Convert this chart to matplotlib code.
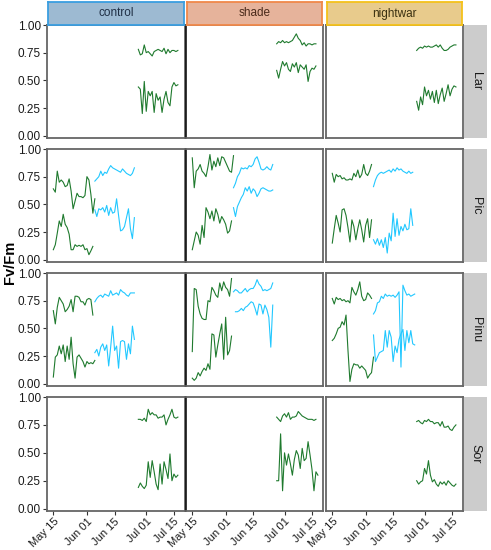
import matplotlib
matplotlib.use("Agg")
import matplotlib.pyplot as plt
import matplotlib.dates as mdates
import numpy as np
import pandas as pd

plt.rcParams['font.family'] = ['Liberation Sans', 'DejaVu Sans']

treatments = ['control', 'shade', 'nightwar']
species = ['Lar', 'Pic', 'Pinu', 'Sor']
yticks = [0.00, 0.25, 0.50, 0.75, 1.00]
xtick_dates = ['2021-05-15', '2021-06-01', '2021-06-15', '2021-07-01', '2021-07-15']

# start dates of the three measuring periods
p1_start = '2021-05-15'
p2_start = '2021-06-05'
p3_start = '2021-06-27'

# Lar (only third period)
lar_ctrl_hi = [0.78, 0.73, 0.74, 0.82, 0.75, 0.76, 0.74, 0.72, 0.76, 0.77, 0.78, 0.77, 0.76, 0.79, 0.74, 0.78, 0.75, 0.77, 0.77, 0.76, 0.77]
lar_ctrl_lo = [0.44, 0.42, 0.20, 0.49, 0.22, 0.40, 0.36, 0.40, 0.21, 0.38, 0.32, 0.35, 0.21, 0.33, 0.40, 0.30, 0.27, 0.44, 0.48, 0.45, 0.46]
lar_shade_hi = [0.83, 0.85, 0.84, 0.86, 0.84, 0.85, 0.84, 0.85, 0.86, 0.89, 0.92, 0.88, 0.86, 0.82, 0.84, 0.81, 0.83, 0.83, 0.82, 0.83, 0.83]
lar_shade_lo = [0.59, 0.52, 0.60, 0.67, 0.63, 0.66, 0.60, 0.58, 0.65, 0.62, 0.66, 0.57, 0.64, 0.62, 0.60, 0.64, 0.49, 0.58, 0.61, 0.60, 0.63]
lar_night_hi = [0.77, 0.79, 0.80, 0.79, 0.81, 0.80, 0.81, 0.80, 0.80, 0.81, 0.82, 0.80, 0.82, 0.79, 0.77, 0.77, 0.78, 0.80, 0.81, 0.82, 0.82]
lar_night_lo = [0.31, 0.23, 0.35, 0.28, 0.44, 0.36, 0.41, 0.33, 0.40, 0.30, 0.41, 0.29, 0.37, 0.43, 0.31, 0.38, 0.46, 0.36, 0.42, 0.45, 0.44]

# Pic (first + second period)
pic_ctrl_hi_p1 = [0.64, 0.61, 0.80, 0.70, 0.72, 0.70, 0.66, 0.67, 0.73, 0.62, 0.46, 0.53, 0.60, 0.57, 0.57, 0.56, 0.58, 0.75, 0.72, 0.59, 0.42, 0.55]
pic_ctrl_lo_p1 = [0.09, 0.135, 0.24, 0.35, 0.30, 0.41, 0.32, 0.29, 0.23, 0.09, 0.09, 0.135, 0.12, 0.13, 0.12, 0.135, 0.09, 0.10, 0.045, 0.08, 0.12]
pic_ctrl_hi_p2 = [0.71, 0.73, 0.75, 0.80, 0.76, 0.79, 0.78, 0.82, 0.85, 0.83, 0.82, 0.81, 0.80, 0.79, 0.82, 0.80, 0.78, 0.77, 0.76, 0.78, 0.83]
pic_ctrl_lo_p2 = [0.45, 0.39, 0.46, 0.45, 0.47, 0.43, 0.49, 0.40, 0.47, 0.42, 0.43, 0.55, 0.40, 0.26, 0.27, 0.30, 0.38, 0.46, 0.28, 0.19, 0.38]
pic_shade_hi_p1 = [0.92, 0.65, 0.80, 0.82, 0.86, 0.80, 0.78, 0.75, 0.84, 0.95, 0.81, 0.89, 0.84, 0.92, 0.85, 0.93, 0.92, 0.88, 0.84, 0.80, 0.79, 0.94]
pic_shade_lo_p1 = [0.09, 0.17, 0.25, 0.22, 0.14, 0.31, 0.20, 0.47, 0.43, 0.37, 0.44, 0.35, 0.46, 0.41, 0.33, 0.39, 0.36, 0.32, 0.24, 0.26, 0.35]
pic_shade_hi_p2 = [0.65, 0.69, 0.75, 0.78, 0.83, 0.82, 0.83, 0.82, 0.85, 0.84, 0.86, 0.91, 0.93, 0.88, 0.82, 0.81, 0.82, 0.84, 0.82, 0.81, 0.86]
pic_shade_lo_p2 = [0.47, 0.39, 0.48, 0.52, 0.56, 0.59, 0.65, 0.62, 0.66, 0.60, 0.64, 0.62, 0.57, 0.60, 0.64, 0.65, 0.64, 0.63, 0.62, 0.62, 0.63]
pic_night_hi_p1 = [0.78, 0.70, 0.77, 0.75, 0.76, 0.73, 0.74, 0.72, 0.72, 0.73, 0.72, 0.78, 0.75, 0.81, 0.74, 0.77, 0.86, 0.78, 0.76, 0.80, 0.86]
pic_night_lo_p1 = [0.15, 0.28, 0.40, 0.33, 0.25, 0.45, 0.46, 0.40, 0.29, 0.16, 0.36, 0.30, 0.18, 0.28, 0.36, 0.27, 0.16, 0.31, 0.37, 0.20, 0.36]
pic_night_hi_p2 = [0.66, 0.72, 0.76, 0.78, 0.79, 0.78, 0.79, 0.80, 0.81, 0.79, 0.82, 0.80, 0.83, 0.81, 0.82, 0.80, 0.79, 0.78, 0.80, 0.78, 0.79]
pic_night_lo_p2 = [0.18, 0.14, 0.19, 0.13, 0.18, 0.11, 0.20, 0.06, 0.24, 0.17, 0.42, 0.21, 0.37, 0.22, 0.30, 0.26, 0.32, 0.27, 0.28, 0.46, 0.31]

# Pinu (first + second period)
pinu_ctrl_hi_p1 = [0.66, 0.54, 0.69, 0.78, 0.75, 0.72, 0.65, 0.67, 0.70, 0.76, 0.65, 0.79, 0.79, 0.78, 0.74, 0.74, 0.71, 0.76, 0.77, 0.76, 0.62]
pinu_ctrl_lo_p1 = [0.06, 0.24, 0.26, 0.34, 0.27, 0.35, 0.20, 0.34, 0.22, 0.42, 0.18, 0.05, 0.24, 0.26, 0.23, 0.20, 0.15, 0.20, 0.18, 0.19, 0.18, 0.21]
pinu_ctrl_hi_p2 = [0.74, 0.77, 0.79, 0.80, 0.78, 0.81, 0.80, 0.79, 0.84, 0.80, 0.81, 0.82, 0.80, 0.85, 0.83, 0.82, 0.80, 0.79, 0.82, 0.82, 0.82]
pinu_ctrl_lo_p2 = [0.28, 0.31, 0.25, 0.33, 0.36, 0.30, 0.35, 0.16, 0.33, 0.52, 0.30, 0.34, 0.14, 0.38, 0.39, 0.38, 0.22, 0.36, 0.27, 0.52, 0.40]
pinu_shade_hi_p1 = [0.29, 0.86, 0.85, 0.70, 0.63, 0.59, 0.58, 0.58, 0.75, 0.74, 0.87, 0.84, 0.80, 0.78, 0.91, 0.84, 0.92, 0.87, 0.85, 0.79, 0.95]
pinu_shade_lo_p1 = [0.05, 0.03, 0.05, 0.10, 0.07, 0.11, 0.14, 0.12, 0.18, 0.13, 0.45, 0.44, 0.24, 0.35, 0.45, 0.54, 0.22, 0.60, 0.26, 0.30, 0.43]
pinu_shade_hi_p2 = [0.83, 0.85, 0.84, 0.82, 0.82, 0.84, 0.86, 0.83, 0.85, 0.86, 0.86, 0.89, 0.94, 0.90, 0.88, 0.84, 0.85, 0.84, 0.85, 0.86, 0.91]
pinu_shade_lo_p2 = [0.65, 0.65, 0.66, 0.68, 0.66, 0.69, 0.70, 0.72, 0.74, 0.73, 0.68, 0.62, 0.72, 0.71, 0.63, 0.71, 0.67, 0.60, 0.33, 0.71]
pinu_night_hi_p1 = [0.77, 0.72, 0.78, 0.76, 0.77, 0.75, 0.76, 0.74, 0.75, 0.73, 0.87, 0.83, 0.80, 0.85, 0.92, 0.79, 0.75, 0.76, 0.82, 0.80, 0.77]
pinu_night_lo_p1 = [0.39, 0.41, 0.45, 0.50, 0.51, 0.56, 0.53, 0.62, 0.30, 0.02, 0.13, 0.18, 0.17, 0.17, 0.14, 0.16, 0.14, 0.12, 0.05, 0.08, 0.10, 0.24]
pinu_night_hi_p2 = [0.63, 0.66, 0.73, 0.74, 0.79, 0.77, 0.81, 0.79, 0.80, 0.79, 0.80, 0.78, 0.80, 0.83, 0.15, 0.89, 0.84, 0.80, 0.81, 0.79, 0.80, 0.81]
pinu_night_lo_p2 = [0.44, 0.20, 0.24, 0.28, 0.29, 0.30, 0.48, 0.33, 0.48, 0.42, 0.20, 0.34, 0.28, 0.40, 0.45, 0.49, 0.30, 0.48, 0.37, 0.48, 0.36, 0.35]

# Sor (only third period)
sor_ctrl_hi = [0.80, 0.80, 0.79, 0.81, 0.78, 0.89, 0.84, 0.86, 0.84, 0.84, 0.81, 0.82, 0.82, 0.84, 0.75, 0.80, 0.84, 0.89, 0.82, 0.81, 0.82]
sor_ctrl_lo = [0.19, 0.23, 0.20, 0.18, 0.21, 0.42, 0.28, 0.43, 0.33, 0.22, 0.17, 0.40, 0.22, 0.42, 0.35, 0.27, 0.49, 0.25, 0.31, 0.28, 0.30]
sor_shade_hi = [0.82, 0.80, 0.78, 0.83, 0.85, 0.82, 0.86, 0.80, 0.82, 0.82, 0.83, 0.87, 0.85, 0.83, 0.82, 0.81, 0.80, 0.80, 0.80, 0.79, 0.80]
sor_shade_lo = [0.25, 0.25, 0.67, 0.16, 0.50, 0.39, 0.49, 0.40, 0.30, 0.44, 0.52, 0.48, 0.36, 0.54, 0.43, 0.45, 0.60, 0.48, 0.35, 0.16, 0.33, 0.30]
sor_night_hi = [0.78, 0.79, 0.77, 0.76, 0.79, 0.78, 0.80, 0.78, 0.78, 0.76, 0.77, 0.77, 0.74, 0.78, 0.73, 0.73, 0.74, 0.71, 0.70, 0.73, 0.75]
sor_night_lo = [0.25, 0.22, 0.24, 0.25, 0.36, 0.31, 0.43, 0.30, 0.24, 0.26, 0.22, 0.20, 0.24, 0.22, 0.24, 0.21, 0.25, 0.23, 0.21, 0.20, 0.22]

GREEN = '#1f7a2e'
BLUE = '#22c8ff'

# (species, treatment) -> list of (start, colour, values)
panels = {
    ('Lar', 'control'): [(p3_start, GREEN, lar_ctrl_hi), (p3_start, GREEN, lar_ctrl_lo)],
    ('Lar', 'shade'): [(p3_start, GREEN, lar_shade_hi), (p3_start, GREEN, lar_shade_lo)],
    ('Lar', 'nightwar'): [(p3_start, GREEN, lar_night_hi), (p3_start, GREEN, lar_night_lo)],
    ('Pic', 'control'): [(p1_start, GREEN, pic_ctrl_hi_p1), (p1_start, GREEN, pic_ctrl_lo_p1),
                         (p2_start, BLUE, pic_ctrl_hi_p2), (p2_start, BLUE, pic_ctrl_lo_p2)],
    ('Pic', 'shade'): [(p1_start, GREEN, pic_shade_hi_p1), (p1_start, GREEN, pic_shade_lo_p1),
                       (p2_start, BLUE, pic_shade_hi_p2), (p2_start, BLUE, pic_shade_lo_p2)],
    ('Pic', 'nightwar'): [(p1_start, GREEN, pic_night_hi_p1), (p1_start, GREEN, pic_night_lo_p1),
                          (p2_start, BLUE, pic_night_hi_p2), (p2_start, BLUE, pic_night_lo_p2)],
    ('Pinu', 'control'): [(p1_start, GREEN, pinu_ctrl_hi_p1), (p1_start, GREEN, pinu_ctrl_lo_p1),
                          (p2_start, BLUE, pinu_ctrl_hi_p2), (p2_start, BLUE, pinu_ctrl_lo_p2)],
    ('Pinu', 'shade'): [(p1_start, GREEN, pinu_shade_hi_p1), (p1_start, GREEN, pinu_shade_lo_p1),
                        (p2_start, BLUE, pinu_shade_hi_p2), ('2021-06-06', BLUE, pinu_shade_lo_p2)],
    ('Pinu', 'nightwar'): [(p1_start, GREEN, pinu_night_hi_p1), (p1_start, GREEN, pinu_night_lo_p1),
                           (p2_start, BLUE, pinu_night_hi_p2), (p2_start, BLUE, pinu_night_lo_p2)],
    ('Sor', 'control'): [(p3_start, GREEN, sor_ctrl_hi), (p3_start, GREEN, sor_ctrl_lo)],
    ('Sor', 'shade'): [(p3_start, GREEN, sor_shade_hi), (p3_start, GREEN, sor_shade_lo)],
    ('Sor', 'nightwar'): [(p3_start, GREEN, sor_night_hi), (p3_start, GREEN, sor_night_lo)],
}

strip_fill = {'control': '#9dbad2', 'shade': '#e6b39b', 'nightwar': '#e8cb8c'}
strip_edge = {'control': '#3a9ee0', 'shade': '#f0884a', 'nightwar': '#f5c21a'}
strip_text = {'control': '#1f2f45', 'shade': '#4a2a1a', 'nightwar': '#3a3010'}

W, H = 491, 550
fig = plt.figure(figsize=(W / 100, H / 100), dpi=100)


def box(x0, x1, y0, y1):
    return [x0 / W, 1 - y1 / H, (x1 - x0) / W, (y1 - y0) / H]


col_px = [(47, 185), (186, 323), (326, 463)]
row_px = [(25, 138), (149, 262), (273, 386), (397, 511)]

xmin = pd.Timestamp('2021-05-15') - pd.Timedelta(days=3.2)
xmax = pd.Timestamp('2021-07-15') + pd.Timedelta(days=5.6)

for r, sp in enumerate(species):
    for c, tr in enumerate(treatments):
        ax = fig.add_axes(box(col_px[c][0], col_px[c][1], row_px[r][0], row_px[r][1]))
        for start, col, vals in panels[(sp, tr)]:
            dates = pd.date_range(start, periods=len(vals), freq='D')
            ax.plot(dates, vals, color=col, lw=0.8)
        ax.set_xlim(xmin, xmax)
        ax.set_ylim(-0.021, 1.0)
        for s in ax.spines.values():
            s.set_color('#666666')
            s.set_linewidth(1.3)
        if c == 1:
            ax.spines['left'].set_color('black')
            ax.spines['left'].set_linewidth(1.1)
        ax.set_yticks(yticks)
        ax.set_xticks(pd.to_datetime(xtick_dates))
        ax.xaxis.set_major_formatter(mdates.DateFormatter('%b %d'))
        ax.tick_params(length=3, width=0.8, color='#333333', labelsize=8.5,
                       labelcolor='#1a1a1a', pad=1.5)
        if c == 0:
            ax.set_yticklabels(['%.2f' % v for v in yticks])
        else:
            ax.tick_params(axis='y', left=False, labelleft=False)
        if r == 3:
            ax.tick_params(axis='x', labelsize=8, pad=1)
            plt.setp(ax.get_xticklabels(), rotation=45, ha='right', rotation_mode='anchor')
        else:
            ax.tick_params(axis='x', bottom=False, labelbottom=False)

        if r == 0:
            sax = fig.add_axes(box(col_px[c][0] + 1, col_px[c][1] - 1, 2, 25))
            sax.set_facecolor(strip_fill[tr])
            sax.set_xticks([])
            sax.set_yticks([])
            for s in sax.spines.values():
                s.set_color(strip_edge[tr])
                s.set_linewidth(1.3)
            sax.text(0.5, 0.5, tr, ha='center', va='center', fontsize=8.5,
                     color=strip_text[tr], transform=sax.transAxes)

    rax = fig.add_axes(box(464, 487, row_px[r][0], row_px[r][1]))
    rax.set_facecolor('#cccccc')
    rax.set_xticks([])
    rax.set_yticks([])
    for s in rax.spines.values():
        s.set_visible(False)
    rax.text(0.5, 0.5, sp, ha='center', va='center', rotation=-90, fontsize=9,
             color='#1a1a1a', transform=rax.transAxes)

fig.text(10 / W, 1 - 262 / H, 'Fv/Fm', rotation=90, ha='center', va='center',
         fontsize=10.5, fontweight='bold')

fig.savefig('out.png', dpi=100)
